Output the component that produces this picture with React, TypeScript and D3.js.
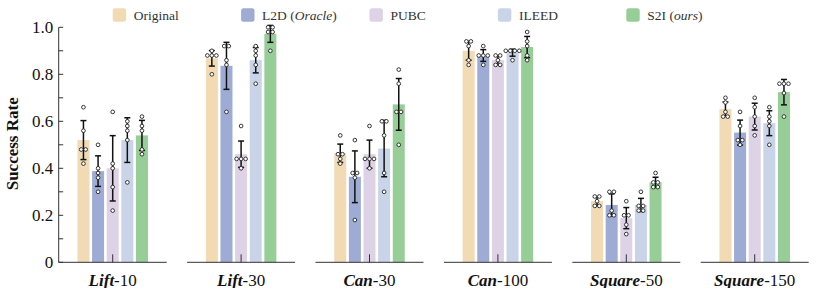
import React from 'react';
import * as d3 from 'd3';

const tasks = ['Lift', 'Lift', 'Can', 'Can', 'Square', 'Square'];
const demos = ['10', '30', '30', '100', '50', '150'];
const methods = ['Original', 'L2D', 'PUBC', 'ILEED', 'S2I'];
const colors = ['#f2dab4', '#9eabd5', '#ddd2e6', '#c9d4e8', '#97cd96'];
const yTicks = [0, 0.1, 0.2, 0.3, 0.4, 0.5, 0.6, 0.7, 0.8, 0.9, 1.0];
const yLabels = ['0', '', '0.2', '', '0.4', '', '0.6', '', '0.8', '', '1.0'];

// mean success rate per task, one array per method
const original = [0.52, 0.868, 0.464, 0.9, 0.26, 0.652];
const l2d = [0.388, 0.836, 0.364, 0.88, 0.244, 0.552];
const pubc = [0.4, 0.46, 0.46, 0.86, 0.188, 0.62];
const ileed = [0.52, 0.86, 0.484, 0.892, 0.244, 0.592];
const s2i = [0.54, 0.972, 0.672, 0.916, 0.34, 0.724];

// error bar half-length (std over seeds)
const originalErr = [0.083, 0.033, 0.039, 0.04, 0.018, 0.03];
const l2dErr = [0.065, 0.1, 0.11, 0.025, 0.047, 0.053];
const pubcErr = [0.139, 0.056, 0.06, 0.018, 0.045, 0.057];
const ileedErr = [0.095, 0.054, 0.12, 0.015, 0.028, 0.053];
const s2iErr = [0.064, 0.036, 0.11, 0.045, 0.022, 0.054];

// per-seed results
const originalSeeds = [
  [0.66, 0.56, 0.48, 0.48, 0.42],
  [0.9, 0.88, 0.88, 0.88, 0.8],
  [0.54, 0.46, 0.46, 0.44, 0.42],
  [0.94, 0.94, 0.92, 0.86, 0.84],
  [0.28, 0.28, 0.26, 0.24, 0.24],
  [0.7, 0.68, 0.64, 0.62, 0.62],
];
const l2dSeeds = [
  [0.5, 0.4, 0.38, 0.36, 0.3],
  [0.92, 0.92, 0.86, 0.84, 0.64],
  [0.52, 0.38, 0.38, 0.36, 0.18],
  [0.92, 0.88, 0.88, 0.88, 0.84],
  [0.3, 0.3, 0.22, 0.2, 0.2],
  [0.64, 0.58, 0.52, 0.52, 0.5],
];
const pubcSeeds = [
  [0.64, 0.42, 0.4, 0.32, 0.22],
  [0.58, 0.44, 0.44, 0.44, 0.4],
  [0.58, 0.44, 0.44, 0.44, 0.4],
  [0.88, 0.88, 0.86, 0.84, 0.84],
  [0.26, 0.2, 0.2, 0.16, 0.12],
  [0.7, 0.66, 0.62, 0.58, 0.54],
];
const ileedSeeds = [
  [0.6, 0.58, 0.56, 0.52, 0.34],
  [0.92, 0.9, 0.88, 0.84, 0.76],
  [0.6, 0.6, 0.54, 0.38, 0.3],
  [0.9, 0.9, 0.9, 0.9, 0.86],
  [0.3, 0.24, 0.24, 0.22, 0.22],
  [0.66, 0.62, 0.6, 0.58, 0.5],
];
const s2iSeeds = [
  [0.62, 0.58, 0.56, 0.48, 0.46],
  [1.0, 1.0, 0.98, 0.98, 0.9],
  [0.82, 0.76, 0.64, 0.64, 0.5],
  [0.98, 0.94, 0.92, 0.88, 0.86],
  [0.38, 0.34, 0.34, 0.32, 0.32],
  [0.76, 0.76, 0.76, 0.72, 0.62],
];

const means = [original, l2d, pubc, ileed, s2i];
const errs = [originalErr, l2dErr, pubcErr, ileedErr, s2iErr];
const seeds = [originalSeeds, l2dSeeds, pubcSeeds, ileedSeeds, s2iSeeds];

const W = 830;
const H = 288;
const serif = '"Liberation Serif", "Times New Roman", serif';

const groupW = 108;
const firstCenter = 112.7;
const step = 128.4;
const groupIdx = d3.range(tasks.length);
const xGroup = d3
  .scaleLinear()
  .domain([0, tasks.length - 1])
  .range([firstCenter, firstCenter + step * (tasks.length - 1)]);
const y = d3.scaleLinear().domain([0, 1]).range([262.3, 27.3]);
const xBar = d3.scaleBand<string>().domain(methods).range([-35.25, 35.25]).paddingInner(0.18);

const dotGap = 4.5;
// spread equal values side by side, like a swarm
function swarm(vals: number[]) {
  const counts = d3.rollup(vals, v => v.length, v => v);
  const seen = new Map<number, number>();
  return vals.map(v => {
    const n = counts.get(v) || 1;
    const k = seen.get(v) || 0;
    seen.set(v, k + 1);
    return { v, dx: (k - (n - 1) / 2) * dotGap };
  });
}

export default function App() {
  const axisX = xGroup(0) - groupW / 2;
  return (
    <svg
      width={W}
      height={H}
      style={{ position: 'absolute', left: 0, top: 0, background: '#fff' }}
      fontFamily={serif}
    >
      {/* legend */}
      {methods.map((m, i) => {
        const lx = xGroup(i);
        return (
          <g key={m} transform={`translate(${lx},8.3)`}>
            <rect width={13.4} height={13.4} rx={2.5} fill={colors[i]} />
            <text x={21} y={11.3} fontSize={13.5} fill="#333">
              {m === 'L2D' ? (
                <>
                  L2D (<tspan fontStyle="italic">Oracle</tspan>)
                </>
              ) : m === 'S2I' ? (
                <>
                  S2I (<tspan fontStyle="italic">ours</tspan>)
                </>
              ) : (
                m
              )}
            </text>
          </g>
        );
      })}

      {/* y axis */}
      <line x1={axisX} x2={axisX} y1={y(0)} y2={y(1)} stroke="#333" strokeWidth={1} />
      {yTicks.map((t, i) => (
        <g key={t} transform={`translate(0,${y(t)})`}>
          <line x1={axisX} x2={axisX + 4.5} stroke="#333" strokeWidth={1} />
          {yLabels[i] && (
            <text x={axisX - 5.5} dy="0.34em" textAnchor="end" fontSize={17} fill="#111">
              {yLabels[i]}
            </text>
          )}
        </g>
      ))}
      <text
        transform={`translate(18,${(y(0) + y(1)) / 2 - 1}) rotate(-90)`}
        textAnchor="middle"
        fontSize={17}
        fontWeight="bold"
        fill="#111"
      >
        Success Rate
      </text>

      {groupIdx.map(g => {
        const cx = xGroup(g);
        return (
          <g key={g} transform={`translate(${cx},0)`}>
            {methods.map((m, mi) => {
              const bx = xBar(m)!;
              const bw = xBar.bandwidth();
              const mid = bx + bw / 2;
              const mean = means[mi][g];
              const e = errs[mi][g];
              return (
                <g key={m}>
                  <rect x={bx} y={y(mean)} width={bw} height={y(0) - y(mean)} fill={colors[mi]} />
                </g>
              );
            })}
            {/* center tick */}
            <line x1={0} x2={0} y1={y(0)} y2={y(0) - 8} stroke="#333" strokeWidth={1} />
            {methods.map((m, mi) => {
              const mid = xBar(m)! + xBar.bandwidth() / 2;
              const mean = means[mi][g];
              const e = errs[mi][g];
              return (
                <g key={m}>
                  <line x1={mid} x2={mid} y1={y(mean - e)} y2={y(mean + e)} stroke="#111" strokeWidth={1.5} />
                  <line x1={mid - 3} x2={mid + 3} y1={y(mean - e)} y2={y(mean - e)} stroke="#111" strokeWidth={1.5} />
                  <line x1={mid - 3} x2={mid + 3} y1={y(mean + e)} y2={y(mean + e)} stroke="#111" strokeWidth={1.5} />
                  {swarm(seeds[mi][g]).map((p, k) => (
                    <circle
                      key={k}
                      cx={mid + p.dx}
                      cy={y(p.v)}
                      r={1.85}
                      fill="#fff"
                      stroke="#222"
                      strokeWidth={0.9}
                    />
                  ))}
                </g>
              );
            })}
            <line x1={-groupW / 2} x2={groupW / 2} y1={y(0)} y2={y(0)} stroke="#333" strokeWidth={1} />
            <text y={285.5} textAnchor="middle" fontSize={17} fill="#111">
              <tspan fontWeight="bold" fontStyle="italic">
                {tasks[g]}
              </tspan>
              -{demos[g]}
            </text>
          </g>
        );
      })}
    </svg>
  );
}
